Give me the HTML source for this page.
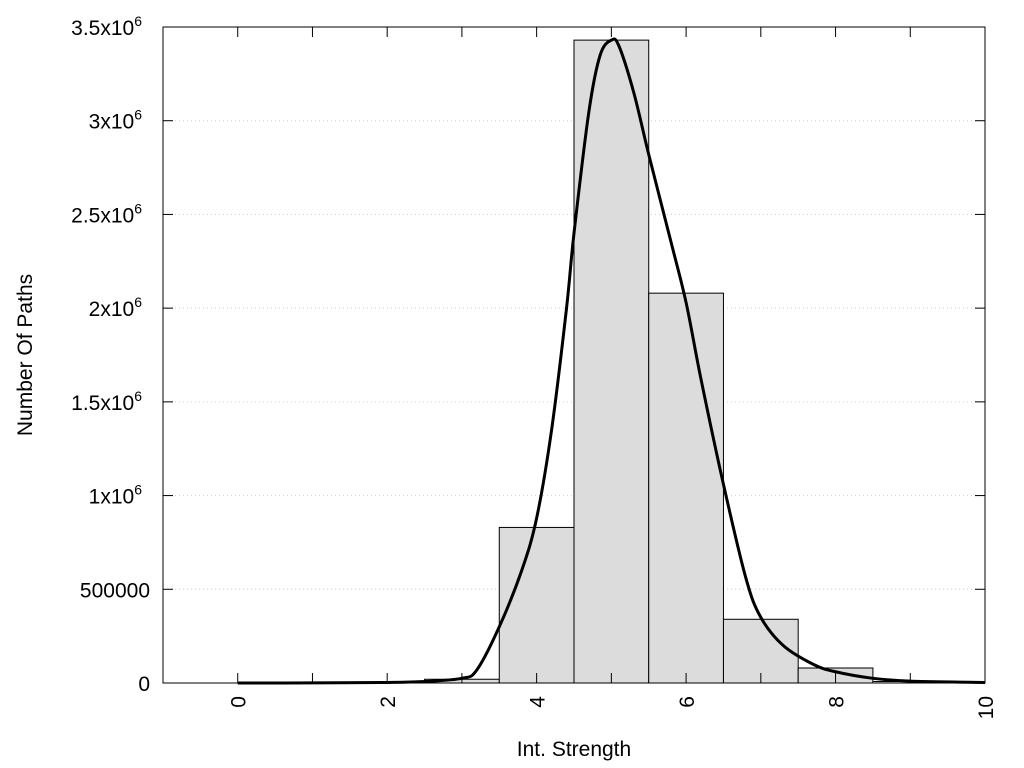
<!DOCTYPE html>
<html><head><meta charset="utf-8"><style>
body{margin:0;background:#fff;}
svg{display:block;font-family:"Liberation Sans",sans-serif;}
</style></head><body>
<svg id="s" width="1024" height="768" xmlns="http://www.w3.org/2000/svg"></svg>
<script>
const s=document.getElementById('s');
const L=163,R=985,T=27,B=683;
const px=x=>L+(x+1)*(R-L)/11, py=v=>B-v*(B-T)/3.5e6;
let h='';
for(let i=1;i<=7;i++){const y=py(i*5e5);h+=`<line x1="${L}" x2="${R}" y1="${y}" y2="${y}" stroke="#ccc" stroke-dasharray="1,3"/>`;}
const bars=[[1,1000],[2,2000],[3,20000],[4,830000],[5,3430000],[6,2080000],[7,340000],[8,80000],[9,8000],[10,2000]];
for(const [x,v] of bars){const x0=Math.max(px(x-0.5),L),x1=Math.min(px(x+0.5),R);h+=`<rect x="${x0}" y="${py(v)}" width="${x1-x0}" height="${B-py(v)}" fill="#dcdcdc" stroke="#000" stroke-width="1"/>`;}
const c=[[0,0],[1,500],[2,3000],[2.5,8000],[3,25000],[3.2,70000],[3.5,300000],[3.8,600000],[4,880000],[4.2,1350000],[4.4,2000000],[4.5,2400000],[4.7,3050000],[4.85,3350000],[5.0,3430000],[5.1,3400000],[5.3,3150000],[5.5,2820000],[5.8,2350000],[6,2030000],[6.2,1620000],[6.5,1060000],[6.8,560000],[7,350000],[7.3,200000],[7.7,100000],[8,60000],[8.5,25000],[9,10000],[10,3000]];
const P=c.map(([x,v])=>[px(x),py(v)]);
let d=`M${P[0][0]},${P[0][1]}`;
for(let i=0;i<P.length-1;i++){const p0=P[Math.max(i-1,0)],p1=P[i],p2=P[i+1],p3=P[Math.min(i+2,P.length-1)];
d+=` C${p1[0]+(p2[0]-p0[0])/6},${p1[1]+(p2[1]-p0[1])/6} ${p2[0]-(p3[0]-p1[0])/6},${p2[1]-(p3[1]-p1[1])/6} ${p2[0]},${p2[1]}`;}
h+=`<path d="${d}" fill="none" stroke="#000" stroke-width="3"/>`;
h+=`<rect x="${L}" y="${T}" width="${R-L}" height="${B-T}" fill="none" stroke="#000" stroke-width="1"/>`;
const yl=['0','500000','1x10','1.5x10','2x10','2.5x10','3x10','3.5x10'];
for(let i=0;i<=7;i++){const y=py(i*5e5);h+=`<line x1="${L}" x2="${L+10}" y1="${y}" y2="${y}" stroke="#000"/><line x1="${R}" x2="${R-10}" y1="${y}" y2="${y}" stroke="#000"/>`;
const t=i<2?yl[i]:`${yl[i]}<tspan dy="-9" font-size="14">6</tspan>`;
h+=`<text x="${i<2?150:142}" y="${y+8}" font-size="21" text-anchor="end">${t}</text>`;}
for(let x=0;x<=10;x++){const X=px(x);h+=`<line x1="${X}" x2="${X}" y1="${B}" y2="${B-10}" stroke="#000"/><line x1="${X}" x2="${X}" y1="${T}" y2="${T+10}" stroke="#000"/>`;
if(x%2==0)h+=`<text transform="translate(${X+8},${B+13}) rotate(-90)" font-size="21" text-anchor="end">${x}</text>`;}
h+=`<text x="574" y="756" font-size="21" text-anchor="middle">Int. Strength</text>`;
h+=`<text transform="translate(32,355) rotate(-90)" font-size="21" text-anchor="middle">Number Of Paths</text>`;
s.innerHTML=h;
</script>
</body></html>
